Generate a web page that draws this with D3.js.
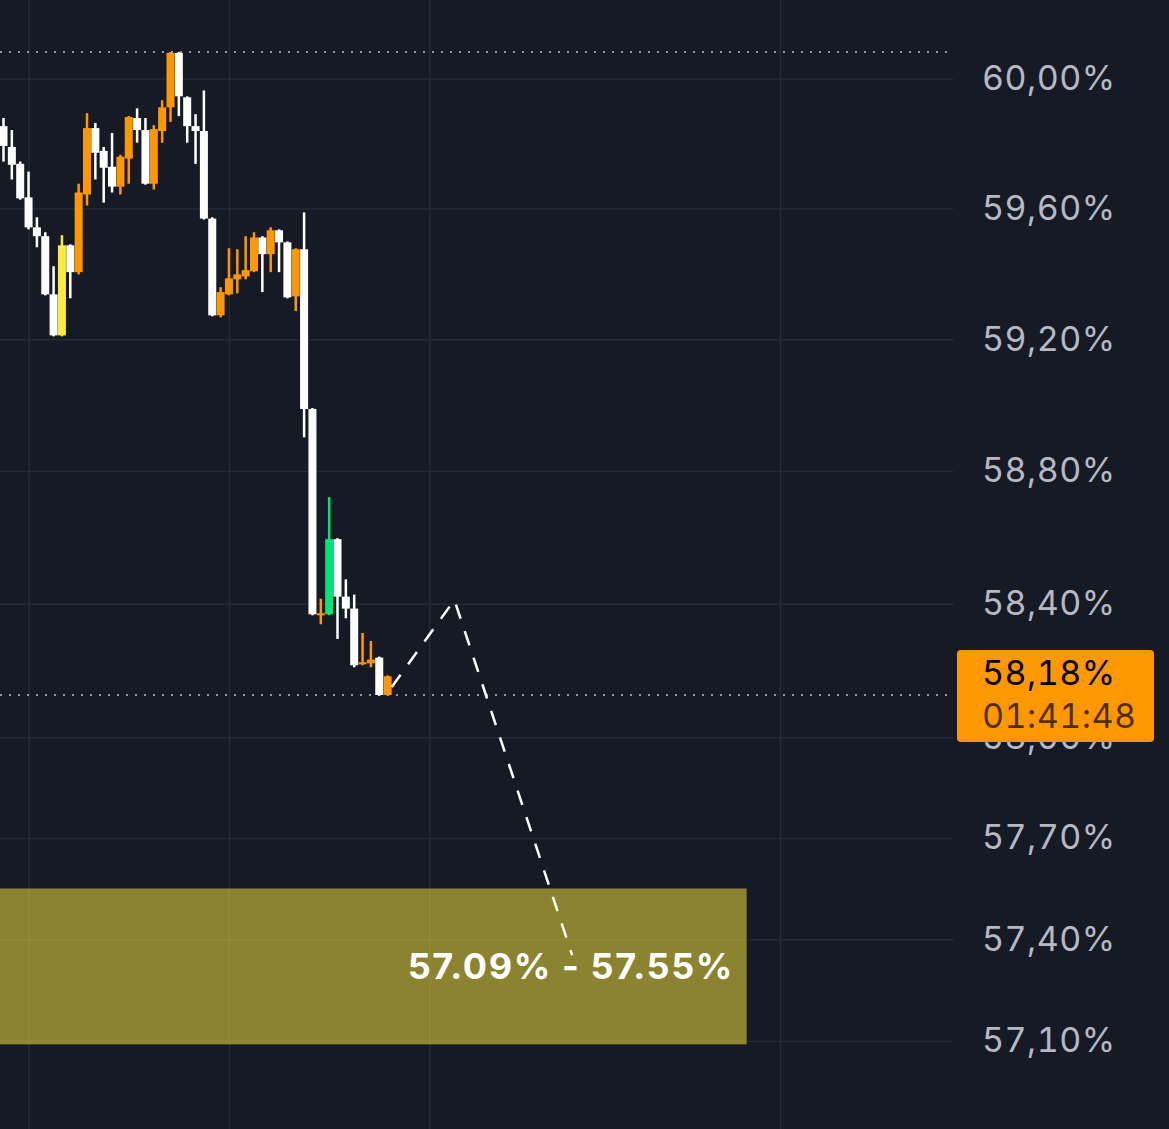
<!DOCTYPE html>
<html><head><meta charset="utf-8">
<script src="https://cdn.jsdelivr.net/npm/d3@7"></script>
<style>html,body{margin:0;padding:0;background:#161a25;overflow:hidden}
.num{font-feature-settings:"tnum" 1;font-variant-numeric:tabular-nums}</style>
</head><body><svg id="c" width="1169" height="1129"></svg>
<script>
// ---------- data ----------
const opens  = [59.853,59.789,59.737,59.634,59.542,59.515,59.337,59.212,59.487,59.405,59.643,59.847,59.777,59.728,59.667,59.753,59.878,59.841,59.676,59.838,59.911,60.079,59.942,59.853,59.838,59.569,59.273,59.337,59.383,59.392,59.408,59.511,59.460,59.533,59.496,59.331,59.475,58.988,58.368,58.368,58.594,58.421,58.385,58.218,58.221,58.238,58.126];
const highs  = [59.878,59.841,59.744,59.713,59.573,59.527,59.423,59.518,59.490,59.676,59.893,59.863,59.789,59.832,59.765,59.884,59.908,59.878,59.856,59.933,60.082,60.082,59.945,59.890,59.963,59.573,59.359,59.478,59.475,59.515,59.527,59.515,59.542,59.536,59.499,59.478,59.588,58.991,58.415,58.721,58.597,58.473,58.427,58.312,58.288,58.241,58.185];
const lows   = [59.744,59.689,59.627,59.536,59.481,59.334,59.209,59.209,59.325,59.398,59.609,59.689,59.618,59.649,59.643,59.676,59.802,59.673,59.658,59.802,59.866,59.884,59.802,59.737,59.566,59.270,59.267,59.334,59.340,59.383,59.405,59.344,59.405,59.405,59.325,59.286,58.902,58.365,58.338,58.365,58.294,58.356,58.209,58.215,58.209,58.124,58.124];
const closes = [59.792,59.734,59.631,59.542,59.515,59.337,59.212,59.487,59.405,59.649,59.847,59.771,59.725,59.667,59.759,59.881,59.841,59.676,59.844,59.911,60.079,59.945,59.853,59.838,59.569,59.273,59.344,59.386,59.398,59.411,59.511,59.460,59.533,59.496,59.328,59.475,58.988,58.368,58.371,58.594,58.421,58.385,58.215,58.224,58.232,58.126,58.182];
const yellowCandles = [7];
const greenCandles = [39];
const tickValues = [60.0,59.6,59.2,58.8,58.4,58.0,57.7,57.4,57.1,56.8];
const timeGridIdx = [3,27,51,93];
const priceLineValue = 58.126;
const countdown = "01:41:48";
const zoneLow = 57.09, zoneHigh = 57.55, zoneEndIdx = 89;
const projection = [[46.5,58.150],[54.0,58.411],[68.1,57.353]];

// ---------- scales ----------
const W = 1169, H = 1129, plotRight = 953;
const x = d3.scaleLinear().domain([0,100]).range([3.5, 838.5]);
const y = d3.scaleLog().domain([57.1,60]).range([1041,78.5]);
const svg = d3.select('#c');
const BG = '#161a25';
const FONT = 'Inter, "Noto Sans", sans-serif';
svg.append('rect').attr('width',W).attr('height',H).attr('fill',BG);

const fmt = v => d3.format('.2f')(v).replace('.',',') + '%';

// grid (axes)
const gridY = svg.append('g').attr('transform',`translate(${plotRight},0)`)
  .call(d3.axisLeft(y).tickValues(tickValues).tickSize(plotRight).tickFormat(''));
gridY.select('.domain').remove();
gridY.selectAll('line').attr('stroke','#262a36').attr('stroke-width',1.5);

const gridX = svg.append('g').attr('transform',`translate(0,${H})`)
  .call(d3.axisTop(x).tickValues(timeGridIdx).tickSize(H).tickFormat(''));
gridX.select('.domain').remove();
gridX.selectAll('line').attr('stroke','#262a36').attr('stroke-width',1.5);

// zone
svg.append('rect')
  .attr('x',0).attr('y',y(zoneHigh))
  .attr('width',x(zoneEndIdx)).attr('height',y(zoneLow)-y(zoneHigh))
  .attr('fill','#ffeb3b').attr('fill-opacity',0.5);

// dotted lines
const maxHigh = d3.max(highs);
[maxHigh, priceLineValue].forEach(v=>{
  svg.append('line').attr('x1',0).attr('x2',948).attr('y1',y(v)).attr('y2',y(v))
    .attr('stroke','#9598a1').attr('stroke-width',2).attr('stroke-dasharray','2 7');
});

// candles
const idx = d3.range(opens.length);
const colorOf = i => yellowCandles.includes(i) ? '#ffeb3b' : greenCandles.includes(i) ? '#00e676' : (closes[i] >= opens[i] ? '#ff9800' : '#ffffff');
const cg = svg.append('g');
const bodyW = 8, wickW = 2.5;
idx.forEach(i=>{
  const c = colorOf(i);
  cg.append('rect').attr('x',x(i)-wickW/2).attr('width',wickW)
    .attr('y',y(highs[i])).attr('height',Math.max(1,y(lows[i])-y(highs[i]))).attr('fill',c);
  const top = y(Math.max(opens[i],closes[i])), bot = y(Math.min(opens[i],closes[i]));
  cg.append('rect').attr('x',x(i)-bodyW/2).attr('width',bodyW)
    .attr('y',top).attr('height',Math.max(2,bot-top)).attr('fill',c);
});

// projection dashed path
svg.append('path')
  .attr('d', d3.line().x(d=>x(d[0])).y(d=>y(d[1]))(projection))
  .attr('fill','none').attr('stroke','#ffffff').attr('stroke-width',2.5)
  .attr('stroke-dasharray','15 13');

// zone label
svg.append('text').attr('x',734).attr('y',y((zoneLow+zoneHigh)/2)+13)
  .attr('text-anchor','end').attr('fill','#ffffff')
  .attr('font-family',FONT).attr('font-weight',700)
  .attr('font-size',36).attr('letter-spacing',1.6)
  .text(`${zoneLow.toFixed(2)}% - ${zoneHigh.toFixed(2)}%`);

// right axis labels
const ax = svg.append('g').attr('transform',`translate(982,0)`)
  .call(d3.axisRight(y).tickValues(tickValues).tickSize(0).tickPadding(0).tickFormat(fmt));
ax.select('.domain').remove();
ax.selectAll('text').attr('class','num').attr('fill','#b6b9c3').attr('font-size',34)
  .attr('font-family',FONT).attr('letter-spacing',0.5)
  .attr('dy','0.32em');

// price label box
const py = y(priceLineValue);
svg.append('rect').attr('x',957).attr('y',py-45).attr('width',197).attr('height',92)
  .attr('rx',4).attr('fill','#ff9800');
svg.append('text').attr('class','num').attr('x',982).attr('y',py-10).attr('fill','#000000')
  .attr('font-family',FONT).attr('font-size',34).attr('letter-spacing',0.5)
  .text(fmt(closes[closes.length-1]));
svg.append('text').attr('class','num').attr('x',982).attr('y',py+33).attr('fill','rgba(0,0,0,0.7)')
  .attr('font-family',FONT).attr('font-size',34).attr('letter-spacing',0.5)
  .text(countdown);
</script></body></html>
